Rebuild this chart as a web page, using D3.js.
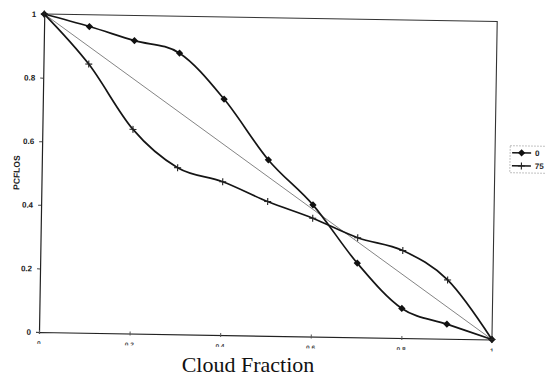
<!DOCTYPE html>
<html>
<head>
<meta charset="utf-8">
<script src="https://cdn.jsdelivr.net/npm/d3@7"></script>
<style>
  html, body { margin: 0; padding: 0; background: #fff; }
  svg { display: block; }
</style>
</head>
<body>
<div id="chart"></div>
<script>
// Cloud fraction along the x axis, sampled every 0.1
const cloudFraction = [0, 0.1, 0.2, 0.3, 0.4, 0.5, 0.6, 0.7, 0.8, 0.9, 1.0];
// PCFLOS for the two cases shown in the legend
const pcflos0  = [1, 0.963, 0.921, 0.884, 0.742, 0.553, 0.414, 0.233, 0.093, 0.046, 0];
const pcflos75 = [1, 0.845, 0.642, 0.524, 0.482, 0.422, 0.372, 0.313, 0.275, 0.185, 0];
// 1:1 reference line
const refX = [0, 1];
const refY = [1, 0];
// Axis ticks
const xTicks = [0, 0.2, 0.4, 0.6, 0.8, 1];
const yTicks = [0, 0.2, 0.4, 0.6, 0.8, 1];
const seriesNames = ["0", "75"];

const W = 546, H = 377;
const plot = { left: 39, top: 14, width: 453, height: 318 };
const tilt = 0.95; // page sits slightly rotated

const svg = d3.select("#chart").append("svg")
  .attr("width", W).attr("height", H)
  .style("font-family", "'Liberation Sans', Arial, sans-serif");

const x = d3.scaleLinear().domain([0, 1]).range([plot.left, plot.left + plot.width]);
const y = d3.scaleLinear().domain([0, 1]).range([plot.top + plot.height, plot.top]);
const fmt = d3.format("~g");

const g = svg.append("g")
  .attr("transform", `rotate(${tilt},${plot.left},${plot.top + plot.height})`);

// only the upper part of the x tick labels is printed
svg.append("defs").append("clipPath").attr("id", "xlabClip")
  .append("rect")
  .attr("x", 0).attr("y", 0)
  .attr("width", W).attr("height", plot.top + plot.height + 12);

// frame: top and right edges
g.append("path")
  .attr("d", `M${x(0)},${y(1)}H${x(1)}V${y(0)}`)
  .attr("fill", "none").attr("stroke", "#333").attr("stroke-width", 1.1);

// y axis
const yAxis = g.append("g")
  .attr("transform", `translate(${x(0)},0)`)
  .call(d3.axisLeft(y).tickValues(yTicks).tickSize(3).tickFormat(fmt));
yAxis.select(".domain").attr("stroke", "#222").attr("stroke-width", 1.2);
yAxis.selectAll(".tick line").attr("stroke", "#444");
yAxis.selectAll(".tick text")
  .attr("x", -8)
  .style("font-size", "8px").style("font-weight", "bold").attr("fill", "#222");

// x axis (labels drawn separately so they can be clipped)
const xAxis = g.append("g")
  .attr("transform", `translate(0,${y(0)})`)
  .call(d3.axisBottom(x).tickValues(xTicks).tickSize(2).tickFormat(""));
xAxis.select(".domain").attr("stroke", "#222").attr("stroke-width", 1.2);
xAxis.selectAll(".tick line").attr("stroke", "#555").attr("y1", -2);

g.append("g").attr("clip-path", "url(#xlabClip)")
  .selectAll("text").data(xTicks).join("text")
  .attr("x", d => x(d)).attr("y", y(0) + 13.5)
  .attr("text-anchor", "middle")
  .style("font-size", "6.5px").style("font-weight", "bold")
  .attr("fill", "#444")
  .text(fmt);

// y axis title
g.append("text")
  .attr("transform", `translate(${plot.left - 25},${y(0.5)}) rotate(-90)`)
  .attr("text-anchor", "middle")
  .attr("dy", "0.35em")
  .style("font-size", "8.5px").style("font-weight", "bold").attr("fill", "#222")
  .text("PCFLOS");

// 1:1 reference line
g.append("path")
  .datum(refX.map((v, i) => [v, refY[i]]))
  .attr("d", d3.line().x(d => x(d[0])).y(d => y(d[1])))
  .attr("fill", "none").attr("stroke", "#666").attr("stroke-width", 0.8);

const smooth = d3.line().curve(d3.curveCardinal.tension(0))
  .x(d => x(d[0])).y(d => y(d[1]));

const s0 = cloudFraction.map((c, i) => [c, pcflos0[i]]);
const s75 = cloudFraction.map((c, i) => [c, pcflos75[i]]);

g.append("path").datum(s0).attr("d", smooth)
  .attr("fill", "none").attr("stroke", "#151515").attr("stroke-width", 1.7);
g.append("path").datum(s75).attr("d", smooth)
  .attr("fill", "none").attr("stroke", "#151515").attr("stroke-width", 1.7);

const diamond = d3.symbol().type(d3.symbolDiamond2).size(34);

g.selectAll(".m0").data(s0).join("path")
  .attr("class", "m0")
  .attr("transform", d => `translate(${x(d[0])},${y(d[1])})`)
  .attr("d", diamond).attr("fill", "#111");

function drawPlus(sel, r) {
  sel.append("path")
    .attr("d", `M${-r},0H${r}M0,${-r}V${r}`)
    .attr("stroke", "#222").attr("stroke-width", 1.1).attr("fill", "none");
}
g.selectAll(".m75").data(s75).join("g")
  .attr("class", "m75")
  .attr("transform", d => `translate(${x(d[0])},${y(d[1])})`)
  .call(drawPlus, 3.5);

// legend
const leg = svg.append("g")
  .attr("transform", `rotate(${tilt},528,160)`);
leg.append("rect")
  .attr("x", 510).attr("y", 146).attr("width", 40).attr("height", 27)
  .attr("fill", "none").attr("stroke", "#999").attr("stroke-width", 0.8)
  .attr("stroke-dasharray", "1.5,1.5");
const legRows = leg.selectAll(".lr").data(seriesNames).join("g")
  .attr("class", "lr")
  .attr("transform", (d, i) => `translate(512,${153 + i * 13})`);
legRows.append("line")
  .attr("x1", 0).attr("x2", 19).attr("y1", 0).attr("y2", 0)
  .attr("stroke", "#151515").attr("stroke-width", 1.5);
legRows.filter((d, i) => i === 0).append("path")
  .attr("transform", "translate(9.5,0)").attr("d", diamond).attr("fill", "#111");
legRows.filter((d, i) => i === 1).append("g")
  .attr("transform", "translate(9.5,0)").call(drawPlus, 3.5);
legRows.append("text")
  .attr("x", 23).attr("dy", "0.35em")
  .style("font-size", "8px").style("font-weight", "bold").attr("fill", "#222")
  .text(d => d);

// x axis title
svg.append("text")
  .attr("x", 248).attr("y", 372)
  .attr("text-anchor", "middle")
  .style("font-family", "'Liberation Serif', 'Times New Roman', serif")
  .style("font-size", "22px").attr("fill", "#111")
  .text("Cloud Fraction");
</script>
</body>
</html>
